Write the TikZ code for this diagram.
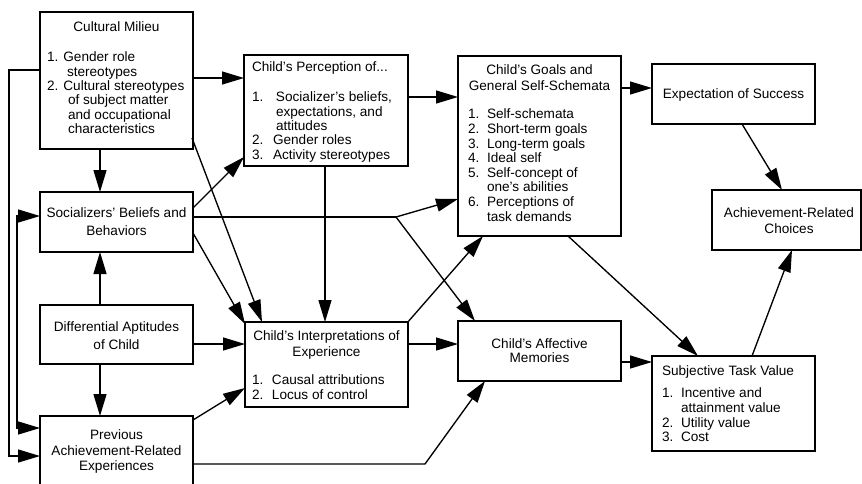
\documentclass[tikz,border=0pt]{standalone}
\usepackage{fontspec}
\setmainfont{Liberation Sans}
\usetikzlibrary{arrows.meta,calc}
\newcommand\nbx[2]{\makebox[#1][l]{#2}}
\begin{document}
\begin{tikzpicture}[x=1pt,y=-1pt,
  box/.style={draw, line width=1.7pt, anchor=north west, inner sep=0pt, outer sep=0pt},
  txt/.style={inner sep=0pt, outer sep=0pt, font=\fontsize{13.6}{#1}\selectfont},
  txt/.default=14.3,
  arr/.style={line width=1.35pt, -{Triangle[length=22pt,width=13pt]}},
  darr/.style={line width=1.35pt, {Triangle[length=22pt,width=13pt]}-{Triangle[length=22pt,width=13pt]}},
  ln/.style={line width=1.35pt}]
\useasboundingbox (0,0) rectangle (862,483);
\clip (0,0) rectangle (862,483);
% boxes
\node[box, minimum width=153pt, minimum height=137pt] (cm) at (40,12) {};
\node[box, minimum width=153pt, minimum height=60pt] (sb) at (40,192) {};
\node[box, minimum width=153pt, minimum height=59pt] (da) at (40,305) {};
\node[box, minimum width=153pt, minimum height=80pt] (pa) at (40,416) {};
\node[box, minimum width=164pt, minimum height=111pt] (cp) at (244,55) {};
\node[box, minimum width=163pt, minimum height=85pt] (ci) at (245,322) {};
\node[box, minimum width=163pt, minimum height=180pt] (cg) at (458,56) {};
\node[box, minimum width=163pt, minimum height=60pt] (es) at (652,64) {};
\node[box, minimum width=149pt, minimum height=60pt] (ac) at (712,190) {};
\node[box, minimum width=163pt, minimum height=60pt] (am) at (458,321) {};
\node[box, minimum width=163pt, minimum height=95pt] (st) at (652,356) {};
% texts
\node[txt, anchor=north] (cmT) at (116.5,22) {Cultural Milieu};
\node[txt, anchor=north west, align=left] (cmL) at (47,52) {1. Gender role\\\hspace*{20pt}stereotypes\\2. Cultural stereotypes\\\hspace*{21pt}of subject matter\\\hspace*{21pt}and occupational\\\hspace*{21pt}characteristics};
\node[txt=17.8, anchor=north, align=center] (sbT) at (116.5,208) {Socializers' Beliefs and\\Behaviors};
\node[txt=17.5, anchor=north, align=center] (daT) at (116.5,322) {Differential Aptitudes\\of Child};
\node[txt=15.5, anchor=north, align=center] (paT) at (116.5,430) {Previous\\Achievement-Related\\Experiences};
\node[txt, anchor=north west] (cpT) at (252,62) {Child's Perception of...};
\node[txt, anchor=north west, align=left] (cpL) at (252,92) {\nbx{24pt}{1.}Socializer's beliefs,\\\hspace*{24pt}expectations, and\\\hspace*{24pt}attitudes\\\nbx{21pt}{2.}Gender roles\\\nbx{21pt}{3.}Activity stereotypes};
\node[txt=16, anchor=north, align=center] (ciT) at (326.5,331) {Child's Interpretations of\\Experience};
\node[txt, anchor=north west, align=left] (ciL) at (252,375) {\nbx{20pt}{1.}Causal attributions\\\nbx{20pt}{2.}Locus of control};
\node[txt=16, anchor=north, align=center] (cgT) at (539.5,65) {Child's Goals and\\General Self-Schemata};
\node[txt=14.6, anchor=north west, align=left] (cgL) at (468,109) {\nbx{19pt}{1.}Self-schemata\\\nbx{19pt}{2.}Short-term goals\\\nbx{19pt}{3.}Long-term goals\\\nbx{19pt}{4.}Ideal self\\\nbx{19pt}{5.}Self-concept of\\\hspace*{19pt}one's abilities\\\nbx{19pt}{6.}Perceptions of\\\hspace*{19pt}task demands};
\node[txt, anchor=north] (esT) at (733.5,89) {Expectation of Success};
\node[txt=16, anchor=north, align=center] (acT) at (789,208) {Achievement-Related\\Choices};
\node[txt=14, anchor=north, align=center] (amT) at (539.5,339) {Child's Affective\\Memories};
\node[txt, anchor=north west] (stT) at (662,366) {Subjective Task Value};
\node[txt=14.7, anchor=north west, align=left] (stL) at (662,388) {\nbx{19pt}{1.}Incentive and\\\hspace*{19pt}attainment value\\\nbx{19pt}{2.}Utility value\\\nbx{19pt}{3.}Cost};
% connectors
\draw[arr] ($(cm.north west)+(0,58)$) -- ++(-31,0) |- ($(pa.north west)+(0,40)$);
\draw[darr] ($(sb.north west)+(0,24)$) -- ++(-23,0) |- ($(pa.north west)+(0,12)$);
\draw[arr] (cm.east |- 0,78) -- (cp.west |- 0,78);
\draw[arr] (cm.south -| 100,0) -- (sb.north -| 100,0);
\draw[arr] ($(cm.south east)+(-1,-11)$) -- ($(ci.north west)+(17,0)$);
\draw[arr] ($(sb.north east)+(0,16)$) -- ($(cp.south west)+(0,-9)$);
\coordinate (br) at (396,217);
\draw[ln] (sb.east |- br) -- (br);
\draw[arr] (br) -- ($(cg.south west)+(0,-37)$);
\draw[arr] (br) -- ($(am.north west)+(17,0)$);
\draw[arr] ($(sb.north east)+(0,41)$) -- ($(ci.north west)+(0,2)$);
\draw[arr] (da.north -| 100,0) -- (sb.south -| 100,0);
\draw[arr] (da.east |- 0,344) -- (ci.west |- 0,344);
\draw[arr] (da.south -| 100,0) -- (pa.north -| 100,0);
\draw[arr] ($(pa.north east)+(0,4)$) -- ($(ci.south west)+(0,-19)$);
\coordinate (bend) at (425,464);
\draw[arr] (pa.east |- bend) -- (bend) -- ($(am.south west)+(27,0)$);
\draw[arr] (cp.south -| 325,0) -- (ci.north -| 325,0);
\draw[arr] (cp.east |- 0,97) -- (cg.west |- 0,97);
\draw[arr] ($(ci.north east)+(-1,1)$) -- ($(cg.south west)+(25,0)$);
\draw[arr] (ci.east |- 0,344) -- (am.west |- 0,344);
\draw[arr] (cg.east |- 0,88) -- (es.west |- 0,88);
\draw[arr] ($(cg.south west)+(110,0)$) -- ($(st.north west)+(46,0)$);
\draw[arr] (am.east |- 0,362) -- (st.west |- 0,362);
\draw[arr] ($(es.south west)+(90,0)$) -- ($(ac.north west)+(70,0)$);
\draw[arr] ($(st.north west)+(100,0)$) -- ($(ac.south west)+(80,0)$);
\end{tikzpicture}
\end{document}
